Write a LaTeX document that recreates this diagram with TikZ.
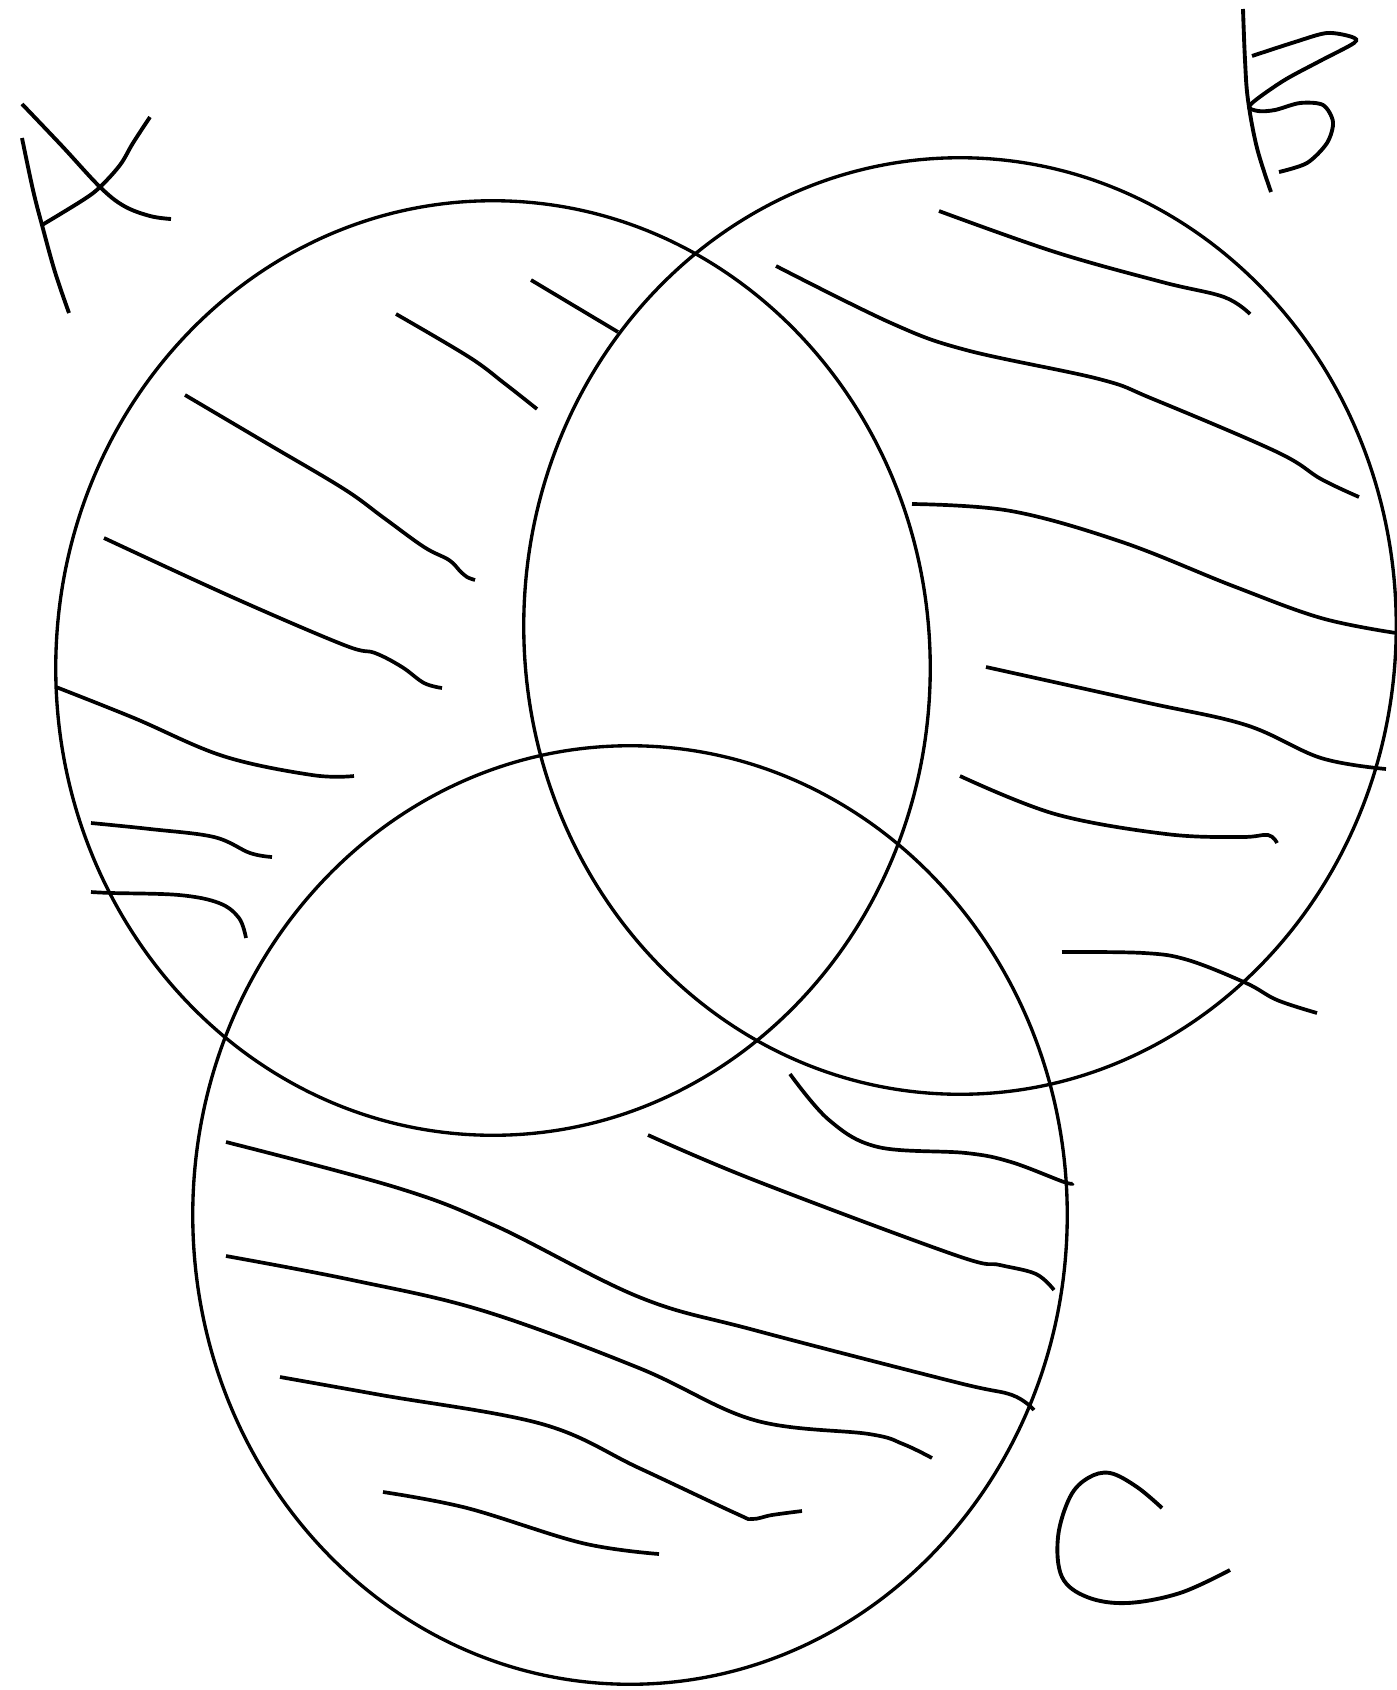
\documentclass[tikz,border=0pt]{standalone}
\begin{document}
\begin{tikzpicture}[x=0.01cm,y=-0.01cm,
  ring/.style={line width=0.95pt},
  hatch/.style={line width=1.05pt},
  letter/.style={line width=1.1pt}]
\useasboundingbox (0,0) rectangle (1396,1690);
% circles
\draw[ring] (493,668) ellipse [x radius=4.37cm, y radius=4.67cm];
\draw[ring] (960,626) ellipse [x radius=4.36cm, y radius=4.68cm];
\draw[ring] (630,1215) ellipse [x radius=4.37cm, y radius=4.69cm];
% letter A
\draw[letter] plot[smooth,tension=0.6] coordinates {(22,104) (62,146) (100,187) (124,206) (150,216) (171,219)};
\draw[letter] plot[smooth,tension=0.6] coordinates {(22,138) (33,190) (42,225) (55,272) (69,313)};
\draw[letter] plot[smooth,tension=0.6] coordinates {(42,225) (83,200) (100,187) (120,165) (133,143) (150,117)};
% letter B
\draw[letter] plot[smooth,tension=0.6] coordinates {(1243,9) (1245,60) (1248,100) (1257,148) (1271,192)};
\draw[letter] plot[smooth,tension=0.5] coordinates {(1252,56) (1295,42) (1327,33) (1352,37) (1354,43) (1320,61) (1283,81) (1250,105) (1258,111) (1275,110) (1300,103) (1323,105) (1333,122) (1327,143) (1307,163) (1279,172)};
% letter C
\draw[letter] plot[smooth,tension=0.6] coordinates {(1162,1508) (1137,1487) (1110,1473) (1088,1478) (1070,1497) (1058,1537) (1062,1577) (1087,1597) (1127,1603) (1180,1593) (1230,1570)};
% hatching in A
\draw[hatch] (531,280) -- (618,332);
\draw[hatch] plot[smooth,tension=0.6] coordinates {(396,314) (469,357) (504,383) (537,409)};
\draw[hatch] plot[smooth,tension=0.6] coordinates {(185,395) (268,444) (344,489) (384,518) (424,547) (449,560) (460,571) (467,577) (475,580)};
\draw[hatch] plot[smooth,tension=0.6] coordinates {(104,538) (232,597) (344,645) (375,653) (402,667) (424,683) (442,688)};
\draw[hatch] plot[smooth,tension=0.6] coordinates {(56,687) (134,718) (223,756) (312,775) (354,776)};
\draw[hatch] plot[smooth,tension=0.6] coordinates {(91,823) (150,829) (214,837) (250,853) (272,857)};
\draw[hatch] plot[smooth,tension=0.6] coordinates {(91,892) (112,893) (179,895) (219,903) (239,918) (246,938)};
% hatching in B
\draw[hatch] plot[smooth,tension=0.6] coordinates {(939,211) (1055,252) (1162,282) (1224,297) (1250,314)};
\draw[hatch] plot[smooth,tension=0.6] coordinates {(776,266) (891,323) (966,350) (1099,379) (1153,399) (1277,452) (1321,479) (1359,497)};
\draw[hatch] plot[smooth,tension=0.6] coordinates {(912,504) (1011,511) (1122,542) (1233,586) (1321,618) (1396,633)};
\draw[hatch] plot[smooth,tension=0.6] coordinates {(986,667) (1144,702) (1246,725) (1321,758) (1386,769)};
\draw[hatch] plot[smooth,tension=0.6] coordinates {(960,776) (1055,814) (1166,834) (1241,837) (1268,835) (1277,843)};
\draw[hatch] plot[smooth,tension=0.6] coordinates {(1062,952) (1144,953) (1188,960) (1246,983) (1277,1000) (1317,1013)};
% hatching in C
\draw[hatch] plot[smooth,tension=0.6] coordinates {(790,1074) (829,1120) (878,1147) (966,1153) (1011,1162) (1064,1182) (1073,1183)};
\draw[hatch] plot[smooth,tension=0.6] coordinates {(648,1135) (754,1180) (955,1255) (1000,1265) (1036,1274) (1054,1290)};
\draw[hatch] plot[smooth,tension=0.6] coordinates {(226,1142) (398,1188) (496,1226) (639,1297) (754,1330) (955,1382) (1012,1395) (1034,1410)};
\draw[hatch] plot[smooth,tension=0.6] coordinates {(226,1256) (352,1280) (484,1311) (639,1368) (754,1420) (869,1434) (903,1444) (932,1458)};
\draw[hatch] plot[smooth,tension=0.6] coordinates {(280,1377) (381,1395) (542,1424) (639,1468) (735,1513) (752,1519) (772,1515) (802,1511)};
\draw[hatch] plot[smooth,tension=0.6] coordinates {(383,1492) (467,1508) (582,1543) (659,1554)};
\end{tikzpicture}
\end{document}
